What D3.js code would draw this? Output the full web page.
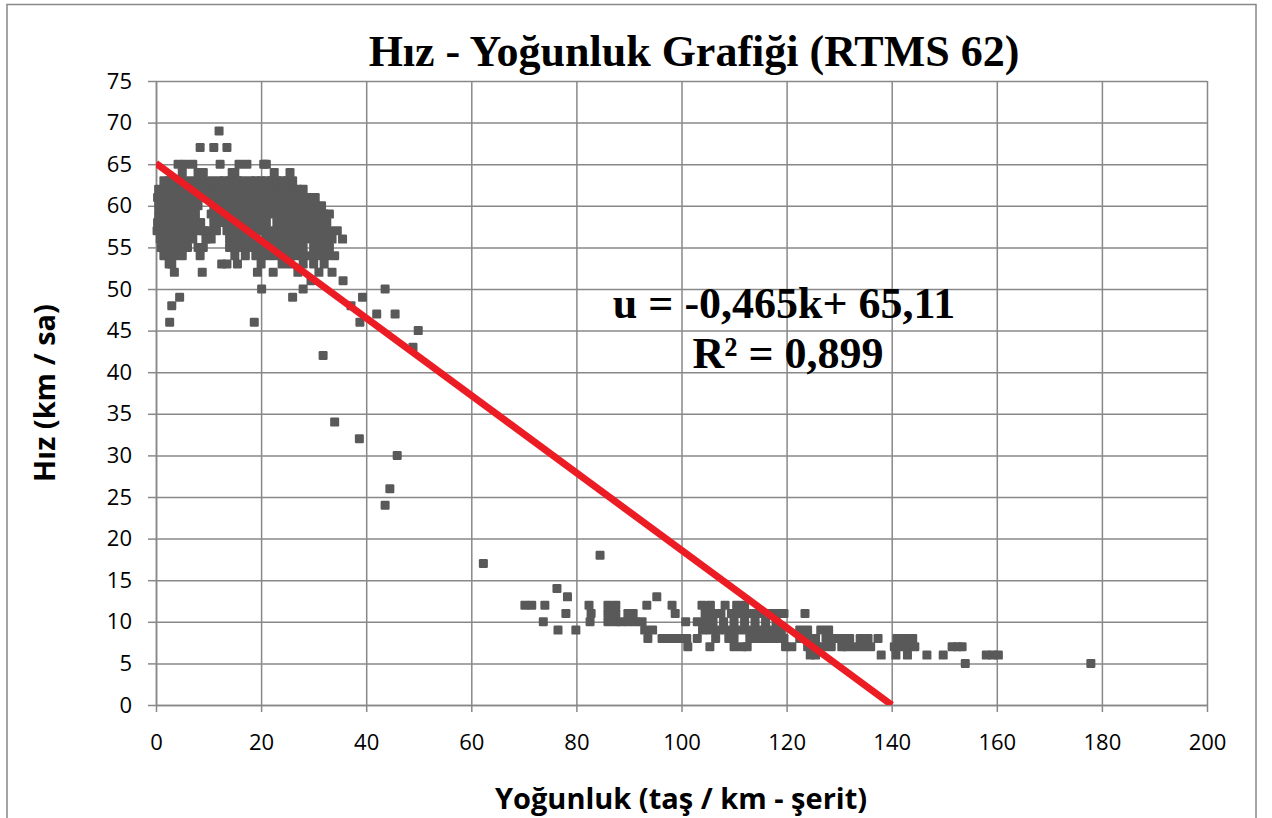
<!DOCTYPE html>
<html>
<head>
<meta charset="utf-8">
<title>Hız - Yoğunluk Grafiği (RTMS 62)</title>
<style>
body{margin:0;background:#fff;}
svg{display:block;background:#fff;}
.axis text{font-family:"Open Sans",sans-serif;font-size:22px;fill:#000;}
.axis path,.axis line{stroke:#888;stroke-width:1.5;}
.grid line{stroke:#888;stroke-width:1.5;}
.grid path{display:none;}
.axisTitle{font-family:"Open Sans",sans-serif;font-weight:bold;font-size:29px;fill:#000;}
.mainTitle{font-family:"Liberation Serif",serif;font-weight:bold;font-size:44px;fill:#000;}
.eq{font-family:"Liberation Serif",serif;font-weight:bold;font-size:44px;fill:#000;text-anchor:middle;}
</style>
<script src="https://cdn.jsdelivr.net/npm/d3@7"></script>
</head>
<body>
<svg id="chart" width="1272" height="818"></svg>
<script>
// eksen değerleri
var xTicks = [0,20,40,60,80,100,120,140,160,180,200];
var yTicks = [0,5,10,15,20,25,30,35,40,45,50,55,60,65,70,75];

// trend çizgisi  u = -0,465k + 65,11
var fitSlope = -0.465;
var fitIntercept = 65.11;
var fitText = ["u = -0,465k+ 65,11", "R\u00b2 = 0,899"];

// serbest akım bölgesi: [hız, [yoğunluklar]]
var freeFlowRows = [
	[69,[12]],
	[67,[8.4,11,13.5]],
	[65,[4.2,5.5,7,12.2,15.8,17.3,20.5,21]],
	[64,[5,8,9,14.5,15,22.5,25.5]],
	[63,[1.5,2.5,3.5,4.5,6,7.5,9,10.5,12,13,14,15.5,16.5,18,19,20,21,22,23,24,25,26]],
	[62,[0.5,1.5,2.5,3.5,4.5,5.5,6.5,7.5,8.5,10,11,12,13,14,15,16,17,18,19,20,21,22,23,24,25,26,27,28]],
	[61,[0.3,1.2,2,3,4,5,6,7,8,9.5,10.5,11.5,12.5,13.5,14.5,15.5,16.5,17.5,18.5,19.5,20.5,21.5,22.5,23.5,24.5,25.5,26.5,27.5,28.5,29.5,30.3]],
	[60,[0.5,1.5,2.5,3.5,4.5,5.5,7,8,11,12,13,14,15,16,17.5,18.5,19.5,20.5,21.5,22.5,23.5,24.5,25.5,26.5,27.5,28.5,29.5,30.5,31.5]],
	[59,[0.5,1.3,2.2,3,4,5,6,7.5,10.5,11.5,12.5,14,15,16,17,18,19,20,21,22,23,24,25,26,27,28,29,30,31,32,33]],
	[58,[0.3,1,2,3,4,5,6,7,8.5,11,12,13,14,15,16,17,18,19,20,21,23,24,25,26,27,28,29,30,31,32.5]],
	[57,[0.2,1,2,3,4,5,6,7,8,9,10,11.5,13.5,14.5,15.5,16.5,17.5,18.5,19.5,20.5,22,23,24,25,26,27,28,29,30,31,32,33,34.5]],
	[56,[0.8,1.8,2.8,3.8,4.8,5.8,7,9.5,10.5,14,15,16,17,18,19,21,22,23,24,25,26,27,28.5,30,31,32,33.5,35.5]],
	[55,[1,2,3,4,5,6,8,9,14,15,16.5,17.5,18.5,20,21,22,23,24,25,26,27,28,30,31,32,33]],
	[54,[1.5,2.5,3.5,5,8.4,15,17,19,20.5,22,23.5,25,26.5,28,29.5,31,32.5,34]],
	[53,[2.5,3,12.5,13.5,15.5,20,24,25.5,28,30,32]],
	[52,[3.5,8.8,19.3,22.3,27,31,33.5]]
];

// geçiş bölgesi noktaları [yoğunluk, hız]
var transitionPoints = [
	[29.5,51],[35.6,51],[20.1,50],[28,50],[43.6,50],[4.5,49],[26,49],[39.3,49],
	[3,48],[37.1,48],[42,47],[45.5,47],[2.6,46],[18.7,46],[38.8,46],[49.9,45],
	[48.9,43],[31.8,42],[34,34],[38.7,32],[45.9,30],[44.5,26],[43.6,24],
	[84.5,18],[62.3,17]
];

// sıkışık akım bölgesi: [hız, [yoğunluklar]]
var congestedRows = [
	[14,[76.3]],
	[13,[78.3,95.3]],
	[12,[70.2,71.5,74,82.4,86,87.5,93.4,98.2,103.9,105.5,108.3,110.5,112]],
	[11,[78,82.8,86,87.5,89.8,90.8,98.8,104.5,106,107.5,109.5,111,112.5,114,115.5,117,118.5,119.5,123.5]],
	[10,[73.7,82.6,86,87.5,88.5,89.8,91.2,92.5,100.8,103,104.5,106,108,110,112,114,116,118]],
	[9,[76.5,79.9,93,94.5,104,105.5,107,108.5,110,111.5,113,114.5,116,117.5,119,122.5,124,126.5,128]],
	[8,[93.6,96.3,97.5,98.7,100,101,103,106.5,109,110,113,114.5,115.5,116.5,118,119.5,122.5,124,125.5,127.5,129,130.5,132,134,135.5,137.4,141,142.5,144]],
	[7,[101.2,105.4,110,111.5,112.5,119.8,121,124,125.7,127,128.5,130.5,131.5,133,134.5,136,140.5,141.5,143,144.4,151.5,152.5,153.4]],
	[6,[124.5,125.5,138,140.8,143,146.7,149.8,158,159.2,160.3]],
	[5,[154,177.9]]
];

(function(){
var svg = d3.select("#chart");
var pLeft = 156, pTop = 81, pRight = 1207, pBottom = 705;

var x = d3.scaleLinear().domain([0,200]).range([pLeft,pRight]);
var y = d3.scaleLinear().domain([0,75]).range([pBottom,pTop]);

// dış çerçeve
svg.append("rect")
	.attr("x",7).attr("y",4.5)
	.attr("width",1249).attr("height",840)
	.attr("fill","none").attr("stroke","#888").attr("stroke-width",1.5);

// ızgara
svg.append("g").attr("class","grid")
	.attr("transform","translate(0," + pTop + ")")
	.call(d3.axisBottom(x).tickValues(xTicks).tickSize(pBottom-pTop).tickFormat(""));
svg.append("g").attr("class","grid")
	.attr("transform","translate(" + pRight + ",0)")
	.call(d3.axisLeft(y).tickValues(yTicks).tickSize(pRight-pLeft).tickFormat(""));

// eksenler
svg.append("g").attr("class","axis")
	.attr("transform","translate(0," + pBottom + ")")
	.call(d3.axisBottom(x).tickValues(xTicks).tickSize(7).tickSizeOuter(0).tickPadding(22));
svg.append("g").attr("class","axis")
	.attr("transform","translate(" + pLeft + ",0)")
	.call(d3.axisLeft(y).tickValues(yTicks).tickSize(8).tickSizeOuter(0).tickPadding(16));

// noktalar
var points = [];
freeFlowRows.forEach(function(r){ r[1].forEach(function(k){ points.push([k,r[0]]); }); });
transitionPoints.forEach(function(p){ points.push(p); });
congestedRows.forEach(function(r){ r[1].forEach(function(k){ points.push([k,r[0]]); }); });

var m = 9;
svg.append("g").selectAll("rect")
	.data(points)
	.enter().append("rect")
	.attr("x",function(d){ return x(d[0]) - m/2; })
	.attr("y",function(d){ return y(d[1]) - m/2; })
	.attr("width",m).attr("height",m)
	.attr("rx",1.2)
	.attr("fill","#595959");

// trend çizgisi
svg.append("clipPath").attr("id","plotClip")
	.append("rect").attr("x",pLeft).attr("y",pTop).attr("width",pRight-pLeft).attr("height",pBottom-pTop);
var kEnd = -fitIntercept / fitSlope;
svg.append("line")
	.attr("clip-path","url(#plotClip)")
	.attr("x1",x(0)).attr("y1",y(fitIntercept))
	.attr("x2",x(kEnd)).attr("y2",y(fitSlope*kEnd + fitIntercept))
	.attr("stroke","#ec1c24").attr("stroke-width",7);

// başlıklar
svg.append("text").attr("class","mainTitle")
	.attr("x",694).attr("y",66).attr("text-anchor","middle")
	.text("Hız - Yoğunluk Grafiği (RTMS 62)");

svg.append("text").attr("class","axisTitle")
	.attr("x",681).attr("y",809).attr("text-anchor","middle")
	.text("Yoğunluk (taş / km - şerit)");

svg.append("text").attr("class","axisTitle")
	.attr("transform","translate(55," + ((pTop+pBottom)/2) + ") rotate(-90)")
	.attr("text-anchor","middle")
	.text("Hız (km / sa)");

// denklem
svg.append("text").attr("class","eq").attr("x",784).attr("y",318).text(fitText[0]);
svg.append("text").attr("class","eq").attr("x",788).attr("y",368).text(fitText[1]);
})();
</script>
</body>
</html>
